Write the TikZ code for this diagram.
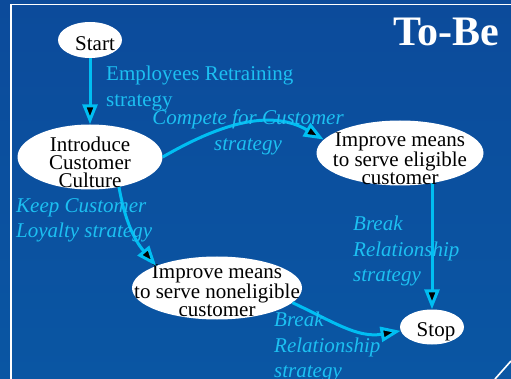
\documentclass[tikz,border=0pt]{standalone}
\usepackage{fontspec}
\setmainfont{Liberation Serif}
\usepackage{tikz}
\usetikzlibrary{shapes.geometric, arrows.meta, positioning, backgrounds}
\definecolor{SlideBlueTop}{HTML}{0C4B9B}
\definecolor{SlideBlueBottom}{HTML}{0A56A3}
\definecolor{FlowCyan}{HTML}{00BEF2}
\definecolor{LabelCyan}{HTML}{1CC0F2}
\newcommand{\statefont}{\fontsize{21}{18}\selectfont}
\newcommand{\flowfont}{\fontsize{21}{25.5}\selectfont}
\tikzset{
  statebox/.style={ellipse, draw=none, fill=white, inner sep=0pt},
  statetext/.style={text=black, font=\statefont, align=center, inner sep=0pt},
  flow/.style={-{Triangle[length=20pt, width=15pt, fill=black]}, line width=3pt, FlowCyan},
  flowlabel/.style={text=LabelCyan, font=\flowfont, align=left, inner sep=0pt, anchor=north west},
  flowlabelit/.style={flowlabel, font=\flowfont\itshape},
  framerule/.style={white, line width=1.6pt}
}

\begin{document}
\begin{tikzpicture}[x=1pt, y=1pt]
  \useasboundingbox (0,0) rectangle (511,-379);
  \begin{scope}[on background layer]
    \shade[top color=SlideBlueTop, bottom color=SlideBlueBottom] (0,0) rectangle (511,-379);
  \end{scope}
  \draw[framerule] (10,-4.5) -- (511,-4.5);
  \draw[framerule] (11,-4) -- (11,-379);
  \draw[framerule] (495,-379) -- (511,-361);

  \node[anchor=base west, text=white, font=\fontsize{42}{42}\selectfont\bfseries, inner sep=0pt] (title) at (393,-46) {To-Be};

  \node[statebox, minimum width=64pt, minimum height=36pt] (start) at (90,-40) {};
  \node[statetext, xshift=5pt, yshift=-4pt] (start-text) at (start) {Start};

  \node[statebox, minimum width=145pt, minimum height=65pt] (intro) at (90,-157) {};
  \node[statetext, yshift=-5pt] (intro-text) at (intro) {Introduce\\Customer\\Culture};

  \node[statebox, minimum width=167pt, minimum height=65pt] (elig) at (400,-153) {};
  \node[statetext, yshift=-6pt] (elig-text) at (elig) {Improve means\\to serve eligible\\customer};

  \node[statebox, minimum width=170pt, minimum height=63pt] (nonelig) at (217,-288) {};
  \node[statetext, yshift=-3pt] (nonelig-text) at (nonelig) {Improve means\\to serve noneligible\\customer};

  \node[statebox, minimum width=64pt, minimum height=35pt] (stop) at (432,-327) {};
  \node[statetext, xshift=4pt, yshift=-5pt] (stop-text) at (stop) {Stop};

  \draw[flow] (start) -- (intro);
  \draw[flow] (intro.east) to[out=30, in=150] (elig.170);
  \draw[flow] (intro.-46) to[out=-80, in=130] (nonelig.160);
  \draw[flow] (nonelig.-11) to[out=-25, in=190] (stop.187);
  \begin{scope}[on background layer]
    \draw[flow] (elig.center -| stop.north) -- (stop.north);
  \end{scope}

  \node[flowlabel] (retrain-lbl) at (106,-66) {Employees Retraining\\strategy};
  \node[flowlabelit, anchor=north, align=center] (compete-lbl) at (248,-110) {Compete for Customer\\strategy};
  \node[flowlabelit] (loyalty-lbl) at (16,-198) {Keep Customer\\Loyalty strategy};
  \node[flowlabelit] (break-lbl) at (353,-216) {Break\\Relationship\\strategy};
  \node[flowlabelit] (break2-lbl) at (274,-312) {Break\\Relationship\\strategy};
\end{tikzpicture}
\end{document}
